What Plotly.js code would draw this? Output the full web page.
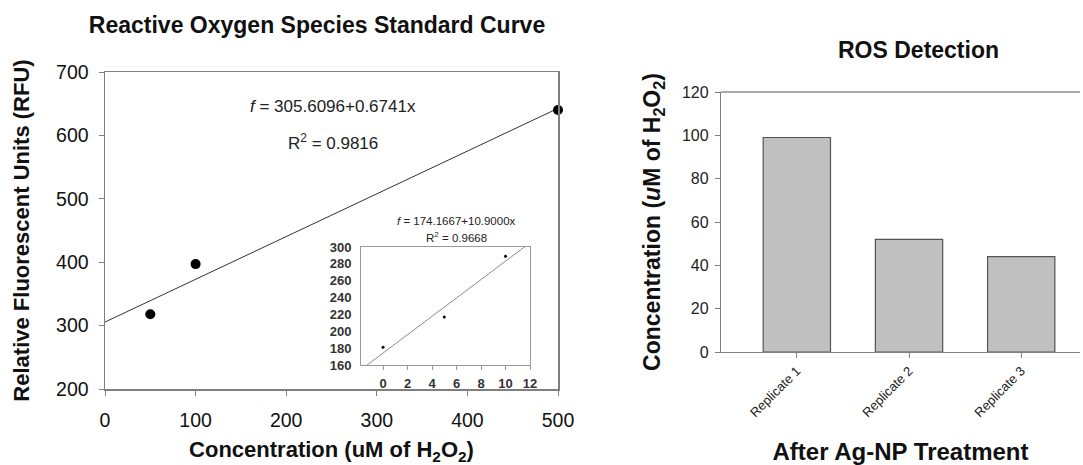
<!DOCTYPE html>
<html>
<head>
<meta charset="utf-8">
<script src="https://cdn.plot.ly/plotly-3.0.1.min.js"></script>
<style>html,body{margin:0;padding:0;background:#fff;}#chart{width:1083px;height:465px;}</style>
</head>
<body>
<div id="chart"></div>
<script>
// Standard curve data
const stdConc = [50, 100, 500];
const stdRFU = [318, 397, 640];
const stdFit = [305.6096, 0.6741]; // intercept, slope
const stdFitRange = [0, 500];

// Inset (low range) data
const insetConc = [0, 5, 10];
const insetRFU = [181, 217, 289];
const insetFit = [174.1667, 10.9000];
const insetFitRange = [-2, 12];

// ROS detection bars
const replicates = ["Replicate 1", "Replicate 2", "Replicate 3"];
const rosConc = [99, 52, 44];

const W = 1083, H = 465;
const px = v => v / W;
const py = v => 1 - v / H;
const FONT = "Liberation Sans, Arial, sans-serif";
const ink = "#111";
const axisGray = "#7f7f7f";

const fitLine = (fit, r) => ({ x: r, y: r.map(v => fit[0] + fit[1] * v) });
const mainLine = fitLine(stdFit, stdFitRange);
const inLine = fitLine(insetFit, insetFitRange);

const traces = [
  { type: "scatter", mode: "lines", x: mainLine.x, y: mainLine.y, xaxis: "x", yaxis: "y",
    line: { color: "#333", width: 1 }, hoverinfo: "skip" },
  { type: "scatter", mode: "markers", x: stdConc, y: stdRFU, xaxis: "x", yaxis: "y",
    marker: { color: "#000", size: 10 }, cliponaxis: false },
  { type: "bar", x: replicates, y: rosConc, xaxis: "x2", yaxis: "y2", width: 0.6,
    marker: { color: "#c0c0c0", line: { color: "#555", width: 1.2 } } },
  { type: "scatter", mode: "lines", x: inLine.x, y: inLine.y, xaxis: "x3", yaxis: "y3",
    line: { color: "#8a8a8a", width: 1 }, hoverinfo: "skip" },
  { type: "scatter", mode: "markers", x: insetConc, y: insetRFU, xaxis: "x3", yaxis: "y3",
    marker: { color: "#000", size: 3 }, cliponaxis: false }
];

const layout = {
  width: W, height: H,
  margin: { l: 0, r: 0, t: 0, b: 0 },
  paper_bgcolor: "#fff", plot_bgcolor: "rgba(0,0,0,0)",
  showlegend: false,
  font: { family: FONT, color: ink },
  title: { text: "<b>Reactive Oxygen Species Standard Curve</b>", x: px(317), xanchor: "center",
    y: py(25), yanchor: "middle", font: { size: 23, color: ink, family: FONT } },
  xaxis: {
    domain: [px(105), px(558)], range: [0, 500], anchor: "y",
    tickvals: [0, 100, 200, 300, 400, 500], ticks: "outside", ticklen: 5, tickcolor: axisGray,
    showline: true, linecolor: axisGray, linewidth: 1.5, mirror: true, showgrid: false, zeroline: false,
    tickfont: { size: 19.5, color: ink }, ticklabelstandoff: 8,
    title: { text: "<b>Concentration (uM of H<sub>2</sub>O<sub>2</sub>)</b>", font: { size: 22, color: ink }, standoff: 14 }
  },
  yaxis: {
    domain: [py(389), py(72)], range: [200, 700], anchor: "x",
    tickvals: [200, 300, 400, 500, 600, 700], ticks: "outside", ticklen: 5, tickcolor: axisGray,
    showline: true, linecolor: axisGray, linewidth: 1.5, mirror: true, showgrid: false, zeroline: false,
    tickfont: { size: 19.5, color: ink }, ticklabelstandoff: 6,
    title: { text: "<b>Relative Fluorescent Units (RFU)</b>", font: { size: 22, color: ink }, standoff: 20 }
  },
  xaxis2: {
    domain: [px(721), px(1080)], range: [-0.676, 2.524], anchor: "y2", type: "category",
    ticks: "outside", ticklen: 5, tickcolor: axisGray, tickangle: -45,
    showline: true, linecolor: axisGray, linewidth: 1.2, showgrid: false, zeroline: false,
    tickfont: { size: 13, color: "#222" },
    title: { text: "<b>After Ag-NP Treatment</b>", font: { size: 24, color: ink }, standoff: 24 }
  },
  yaxis2: {
    domain: [py(352), py(92)], range: [0, 120], anchor: "x2",
    tickvals: [0, 20, 40, 60, 80, 100, 120], ticks: "outside", ticklen: 5, tickcolor: axisGray,
    showline: true, linecolor: axisGray, linewidth: 1.2, showgrid: false, zeroline: false,
    tickfont: { size: 16, color: "#222" }, ticklabelstandoff: 3,
    title: { text: "<b>Concentration (<i>u</i>M of H<sub>2</sub>O<sub>2</sub>)</b>", font: { size: 23, color: ink }, standoff: 14 }
  },
  xaxis3: {
    domain: [px(361), px(530)], range: [-1.8, 12], anchor: "y3",
    tickvals: [0, 2, 4, 6, 8, 10, 12], ticks: "outside", ticklen: 4, tickcolor: "#999",
    showline: true, linecolor: "#999", linewidth: 1, mirror: true, showgrid: false, zeroline: false,
    tickfont: { size: 13, color: "#333", weight: "bold" }, ticklabelstandoff: 2
  },
  yaxis3: {
    domain: [py(365), py(247)], range: [160, 300], anchor: "x3",
    tickvals: [160, 180, 200, 220, 240, 260, 280, 300], ticks: "",
    showline: true, linecolor: "#999", linewidth: 1, mirror: true, showgrid: false, zeroline: false,
    tickfont: { size: 13, color: "#333", weight: "bold" }, ticklabelstandoff: 6
  },
  shapes: [
    { type: "line", xref: "x2 domain", yref: "y2 domain", x0: 0, x1: 1, y0: 1, y1: 1,
      line: { color: "#555", width: 1.2 } }
  ],
  annotations: [
    { text: "<b>ROS Detection</b>", xref: "paper", yref: "paper", x: px(918), y: py(50),
      xanchor: "center", yanchor: "middle", showarrow: false, font: { size: 23, color: ink } },
    { text: "<i>f</i> = 305.6096+0.6741x", xref: "paper", yref: "paper", x: px(333), y: py(106),
      xanchor: "center", yanchor: "middle", showarrow: false, font: { size: 17, color: "#222" } },
    { text: "R<sup>2</sup> = 0.9816", xref: "paper", yref: "paper", x: px(333), y: py(142),
      xanchor: "center", yanchor: "middle", showarrow: false, font: { size: 17, color: "#222" } },
    { text: "<i>f</i> = 174.1667+10.9000x", xref: "paper", yref: "paper", x: px(456), y: py(221),
      xanchor: "center", yanchor: "middle", showarrow: false, font: { size: 11.5, color: "#222" } },
    { text: "R<sup>2</sup> = 0.9668", xref: "paper", yref: "paper", x: px(456), y: py(237),
      xanchor: "center", yanchor: "middle", showarrow: false, font: { size: 11.5, color: "#222" } }
  ]
};

Plotly.newPlot("chart", traces, layout, { staticPlot: true, displayModeBar: false });
</script>
</body>
</html>
